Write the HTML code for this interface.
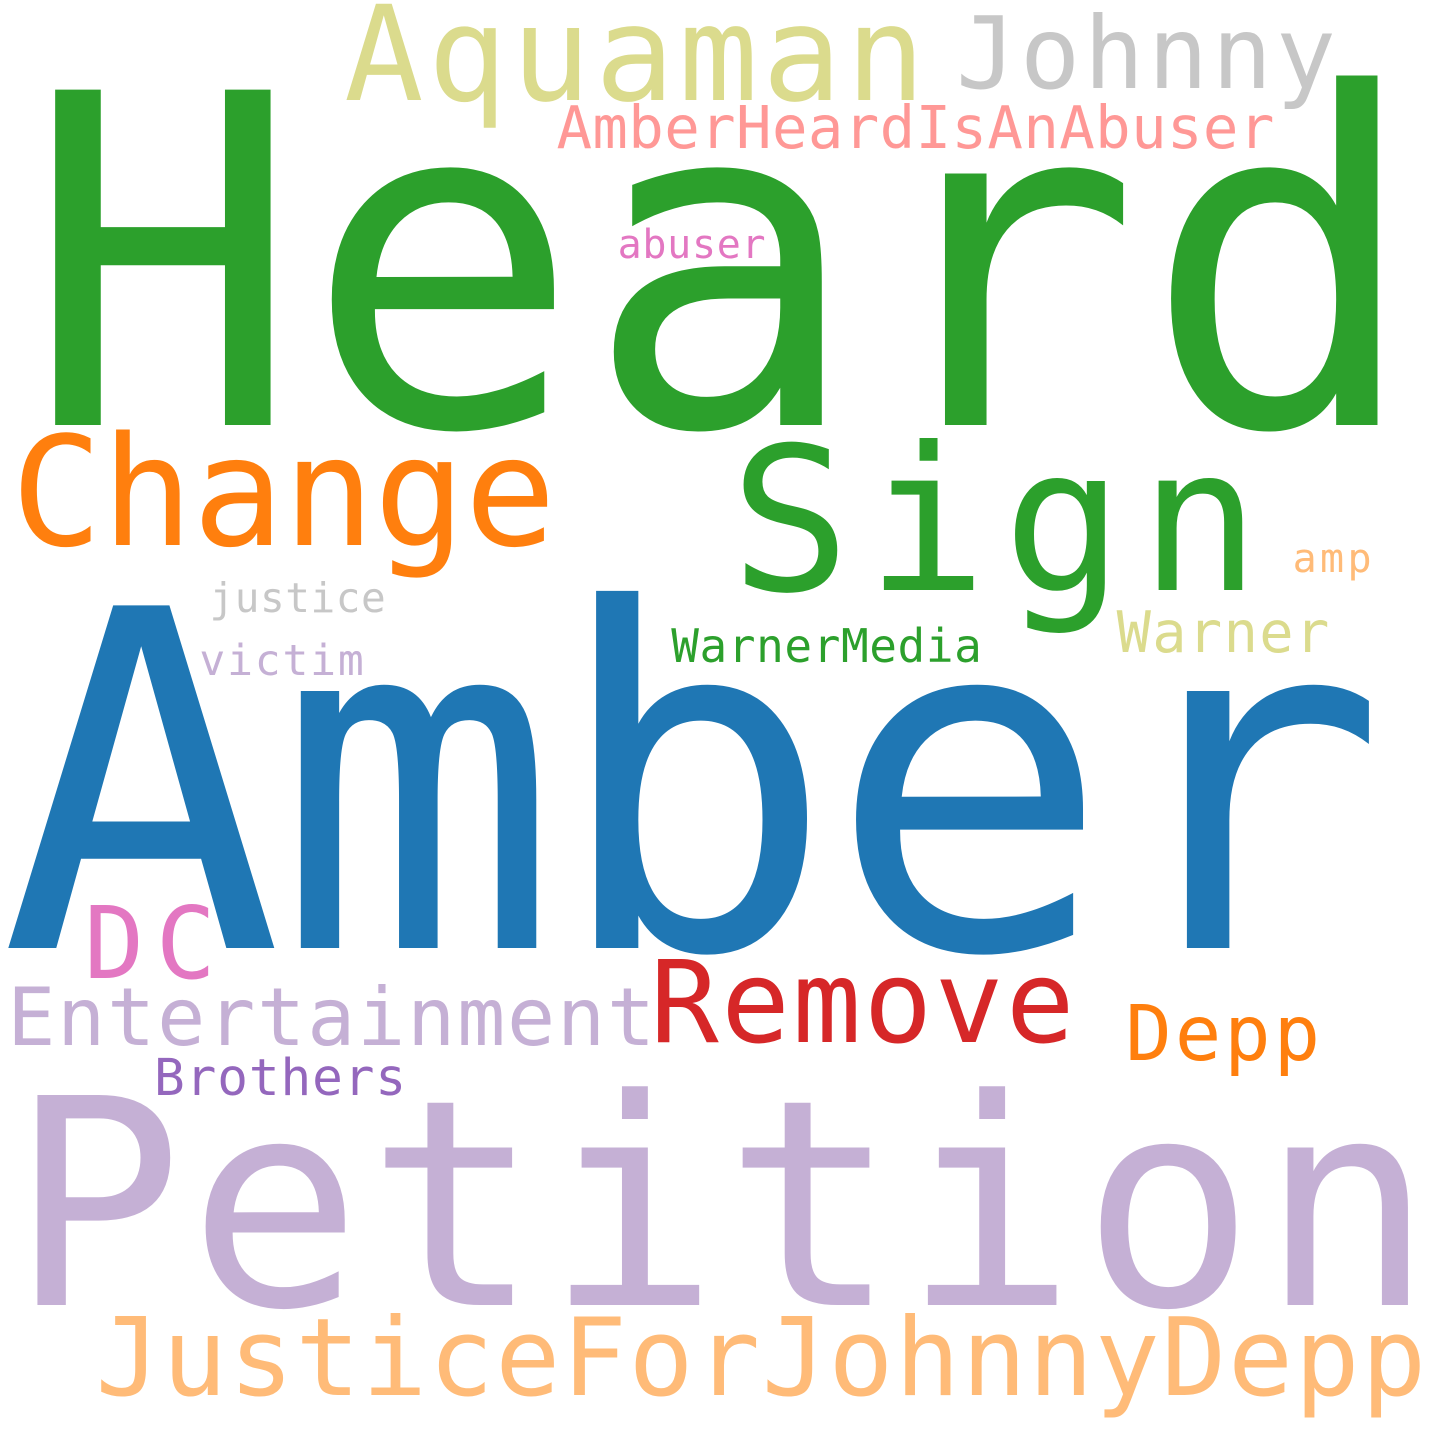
<!DOCTYPE html>
<html><head><meta charset="utf-8"><style>
html,body{margin:0;padding:0;background:#fff;}
svg{display:block;}
text{font-family:"DejaVu Sans Mono","Liberation Mono",monospace;}
</style></head>
<body>
<svg id="cloud" width="1440" height="1440" viewBox="0 0 1440 1440" xmlns="http://www.w3.org/2000/svg">
<rect width="1440" height="1440" fill="#fff"/>
</svg>
<script>
const words = ["Heard","Amber","Petition","JusticeForJohnnyDepp","Change","Sign","Aquaman","Johnny","AmberHeardIsAnAbuser","abuser","amp","justice","victim","WarnerMedia","Warner","DC","Entertainment","Remove","Depp","Brothers"];
const sizes = [460,470,288,108,152,200,132,100,59,40,40,41,43,46,57,100,80,114,77,51];
const lefts = [52,28,27,102,20,742,352,962,560,620,1295,212,202,674,1120,90,12,657,1130,157];
const spans = [1350,1340,1395,1320,530,510,568,370,712,144,75,172,160,306,207,122,640,413,187,247];
const baselines = [425,948,1305,1395,545,590,100,88,148,258,572,612,675,662,652,978,1045,1042,1060,1095];
const colors = ["#2ca02c","#1f77b4","#c5b0d5","#ffbb78","#ff7f0e","#2ca02c","#dbdb8d","#c7c7c7","#ff9896","#e377c2","#ffbb78","#c7c7c7","#c5b0d5","#2ca02c","#dbdb8d","#e377c2","#c5b0d5","#d62728","#ff7f0e","#9467bd"];
const svg = document.getElementById('cloud');
const NS = "http://www.w3.org/2000/svg";
for (let i = 0; i < words.length; i++) {
  const t = document.createElementNS(NS, 'text');
  
  
  t.setAttribute('x', lefts[i] - sizes[i] * 0.06);
  t.setAttribute('y', baselines[i]);
  t.setAttribute('font-size', sizes[i]);
  t.setAttribute('fill', colors[i]);
  t.setAttribute('textLength', spans[i] + sizes[i] * 0.1);
  t.textContent = words[i];
  svg.appendChild(t);
}
</script>
</body></html>
